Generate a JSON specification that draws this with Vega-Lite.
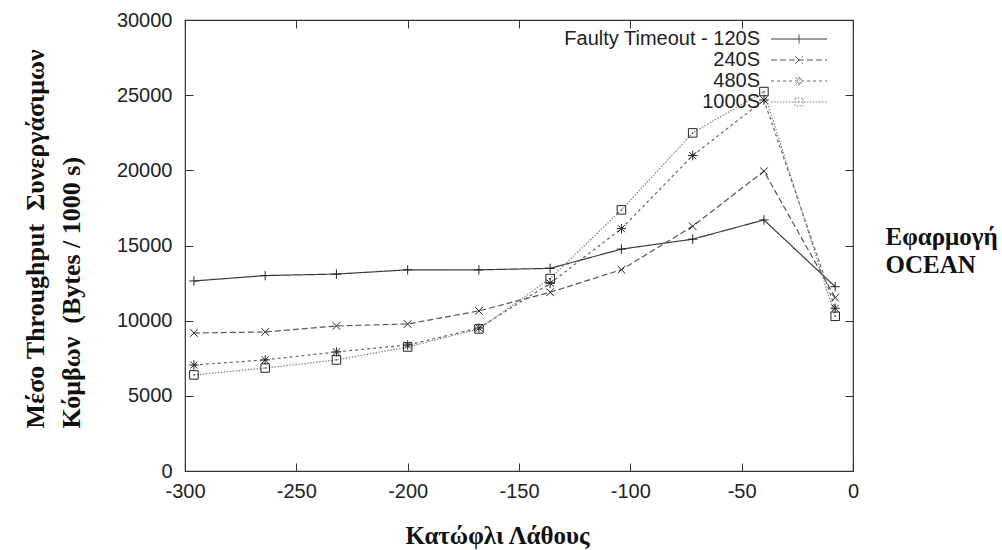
{
  "$schema": "https://vega.github.io/schema/vega-lite/v6.json",
  "autosize": "none",
  "width": 668,
  "height": 451,
  "padding": {"left": 185, "top": 20, "right": 149, "bottom": 79},
  "background": "white",
  "config": {
    "view": {"stroke": "#333", "strokeWidth": 1.2},
    "axis": {"labelFont": "Liberation Sans", "labelFontSize": 20, "labelColor": "#222", "labelFlush": false, "tickColor": "#333", "domain": false, "grid": false, "titleFont": "Liberation Serif", "titleFontWeight": "bold", "titleFontSize": 25, "titleColor": "#111"}
  },
  "data": {"values": [
    {"x": -296, "y": 12640, "s": "120S"},
    {"x": -264, "y": 13000, "s": "120S"},
    {"x": -232, "y": 13100, "s": "120S"},
    {"x": -200, "y": 13380, "s": "120S"},
    {"x": -168, "y": 13380, "s": "120S"},
    {"x": -136, "y": 13480, "s": "120S"},
    {"x": -104, "y": 14760, "s": "120S"},
    {"x": -72, "y": 15420, "s": "120S"},
    {"x": -40, "y": 16700, "s": "120S"},
    {"x": -8, "y": 12260, "s": "120S"},
    {"x": -296, "y": 9180, "s": "240S"},
    {"x": -264, "y": 9250, "s": "240S"},
    {"x": -232, "y": 9650, "s": "240S"},
    {"x": -200, "y": 9780, "s": "240S"},
    {"x": -168, "y": 10650, "s": "240S"},
    {"x": -136, "y": 11890, "s": "240S"},
    {"x": -104, "y": 13390, "s": "240S"},
    {"x": -72, "y": 16280, "s": "240S"},
    {"x": -40, "y": 19940, "s": "240S"},
    {"x": -8, "y": 11530, "s": "240S"},
    {"x": -296, "y": 7050, "s": "480S"},
    {"x": -264, "y": 7390, "s": "480S"},
    {"x": -232, "y": 7920, "s": "480S"},
    {"x": -200, "y": 8380, "s": "480S"},
    {"x": -168, "y": 9510, "s": "480S"},
    {"x": -136, "y": 12490, "s": "480S"},
    {"x": -104, "y": 16120, "s": "480S"},
    {"x": -72, "y": 20980, "s": "480S"},
    {"x": -40, "y": 24680, "s": "480S"},
    {"x": -8, "y": 10820, "s": "480S"},
    {"x": -296, "y": 6390, "s": "1000S"},
    {"x": -264, "y": 6850, "s": "1000S"},
    {"x": -232, "y": 7390, "s": "1000S"},
    {"x": -200, "y": 8250, "s": "1000S"},
    {"x": -168, "y": 9450, "s": "1000S"},
    {"x": -136, "y": 12800, "s": "1000S"},
    {"x": -104, "y": 17370, "s": "1000S"},
    {"x": -72, "y": 22490, "s": "1000S"},
    {"x": -40, "y": 25240, "s": "1000S"},
    {"x": -8, "y": 10290, "s": "1000S"}
  ]},
  "layer": [
    {
      "mark": {"type": "line", "strokeWidth": 1.2},
      "encoding": {
        "x": {"field": "x", "type": "quantitative", "scale": {"domain": [-300, 0], "nice": false, "zero": false},
          "axis": {"orient": "bottom", "values": [-300, -250, -200, -150, -100, -50, 0], "labelExpr": "datum.value + ''", "tickSize": -8, "labelPadding": 28.5, "labelBaseline": "middle", "title": "Κατώφλι Λάθους", "titleX": 312, "titleY": 72, "titleAlign": "center", "titleBaseline": "alphabetic"}},
        "y": {"field": "y", "type": "quantitative", "scale": {"domain": [0, 30000], "nice": false},
          "axis": {"orient": "left", "values": [0, 5000, 10000, 15000, 20000, 25000, 30000], "labelExpr": "datum.value + ''", "tickSize": -8, "labelPadding": 21, "title": ["Μέσο Throughput\u00a0\u00a0Συνεργάσιμων", "Κόμβων\u00a0\u00a0(Bytes / 1000 s)"], "titleFontSize": 26, "titleAngle": -90, "titleAlign": "left", "titleBaseline": "alphabetic", "titleLineHeight": 36, "titleX": -142, "titleY": 408}},
        "detail": {"field": "s"},
        "color": {"field": "s", "type": "nominal", "scale": {"domain": ["120S", "240S", "480S", "1000S"], "range": ["#3a3a3a", "#555555", "#666666", "#808080"]},
          "legend": {
            "title": null, "orient": "none", "legendX": 604, "legendY": 9,
            "labelFont": "Liberation Sans", "labelFontSize": 20, "labelColor": "#222",
            "labelAlign": "right", "labelOffset": -49, "labelLimit": 400,
            "rowPadding": 1,
            "symbolSize": 100, "symbolStrokeWidth": 1,
            "labelExpr": "datum.value === '120S' ? 'Faulty Timeout - 120S' : datum.value",
            "encode": {"symbols": {"update": {
              "shape": {"signal": "datum.value === '120S' ? 'M-5.6,0H5.6M0,-0.9V0.9' : datum.value === '240S' ? 'M-5.6,0H5.6M-0.75,-0.75L0.75,0.75M-0.75,0.75L0.75,-0.75' : datum.value === '480S' ? 'M-5.6,0H5.6M0,-0.9V0.9M-0.7,-0.7L0.7,0.7M-0.7,0.7L0.7,-0.7' : 'M-5.6,0H5.6M-0.8,-0.8H0.8V0.8H-0.8ZM-0.15,0H0.15'"},
              "strokeDash": {"signal": "datum.value === '120S' ? [1,0] : datum.value === '240S' ? [6,3] : datum.value === '480S' ? [3,3] : [1.5,1.5]"},
              "stroke": {"value": "#222"},
              "fill": {"value": "transparent"}
            }}}
          }},
        "strokeDash": {"field": "s", "type": "nominal", "scale": {"domain": ["120S", "240S", "480S", "1000S"], "range": [[1, 0], [6, 3], [3, 3], [1.5, 1.5]]}, "legend": null}
      }
    },
    {
      "mark": {"type": "point", "filled": false, "stroke": "#222", "strokeWidth": 1, "size": 90, "opacity": 1},
      "encoding": {
        "x": {"field": "x", "type": "quantitative", "axis": {"orient": "top", "values": [-300, -250, -200, -150, -100, -50, 0], "tickSize": -8, "labels": false, "title": null}},
        "y": {"field": "y", "type": "quantitative", "axis": {"orient": "right", "values": [0, 5000, 10000, 15000, 20000, 25000, 30000], "tickSize": -8, "labels": false, "title": ["Εφαρμογή", "OCEAN"], "titleAngle": 0, "titleAlign": "left", "titleBaseline": "alphabetic", "titleLineHeight": 28, "titleX": 32, "titleY": 224}},
        "shape": {"field": "s", "type": "nominal", "scale": {"domain": ["120S", "240S", "480S", "1000S"], "range": ["M-1,0H1M0,-1V1", "M-0.8,-0.8L0.8,0.8M-0.8,0.8L0.8,-0.8", "M-1,0H1M0,-1V1M-0.75,-0.75L0.75,0.75M-0.75,0.75L0.75,-0.75", "M-0.9,-0.9H0.9V0.9H-0.9ZM-0.15,0H0.15"]}, "legend": null}
      }
    }
  ],
  "resolve": {"axis": {"x": "independent", "y": "independent"}, "legend": {"shape": "independent", "strokeDash": "independent", "color": "independent"}}
}
